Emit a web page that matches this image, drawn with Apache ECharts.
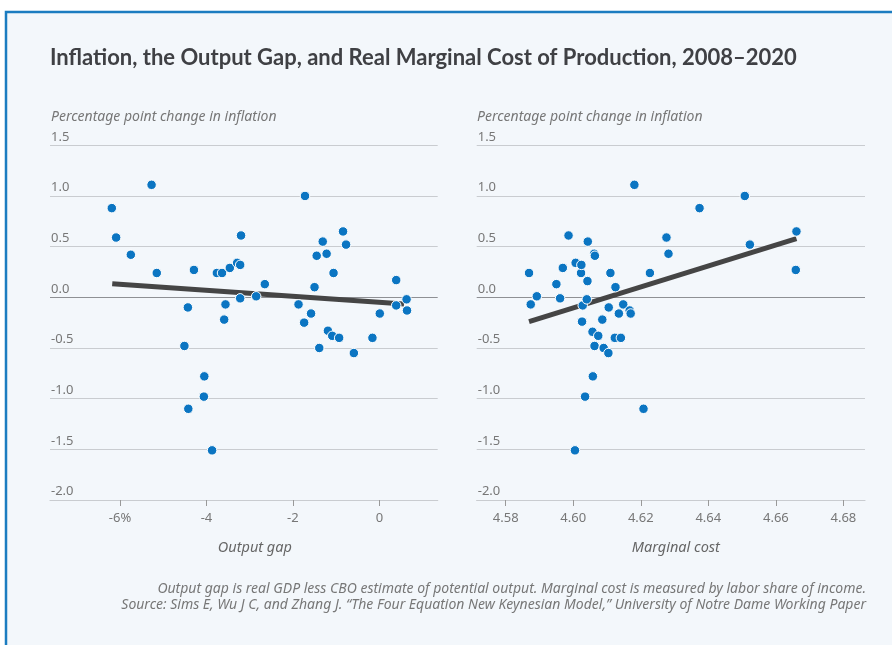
<!DOCTYPE html>
<html>
<head>
<meta charset="utf-8">
<script src="https://cdn.jsdelivr.net/npm/echarts@6/dist/echarts.min.js"></script>
<style>
html,body{margin:0;padding:0;background:#ffffff;}
#chart{width:892px;height:645px;}
</style>
</head>
<body>
<div id="chart"></div>
<script>
// Left panel: output gap (%) vs percentage point change in inflation
const gapX = [-6.19,-6.09,-5.75,-5.27,-5.15,-4.51,-4.43,-4.42,-4.29,-4.05,-4.06,-3.87,-3.76,-3.64,-3.59,-3.56,-3.46,-3.29,-3.22,-3.22,-3.20,-2.85,-2.65,-1.87,-1.74,-1.72,-1.58,-1.50,-1.45,-1.39,-1.31,-1.22,-1.19,-1.09,-1.06,-0.93,-0.84,-0.77,-0.59,-0.16,0.01,0.39,0.39,0.63,0.64];
const gapY = [0.88,0.59,0.42,1.11,0.24,-0.48,-0.10,-1.10,0.27,-0.78,-0.98,-1.51,0.24,0.24,-0.22,-0.07,0.29,0.34,0.32,-0.01,0.61,0.01,0.13,-0.07,-0.25,1.00,-0.16,0.10,0.41,-0.50,0.55,0.43,-0.33,-0.38,0.24,-0.40,0.65,0.52,-0.55,-0.40,-0.16,0.17,-0.08,-0.02,-0.13];
const gapFitX = [-6.18, 0.57];
const gapFitY = [0.134, -0.066];

// Right panel: marginal cost vs percentage point change in inflation
const mcX = [4.5869,4.5874,4.5892,4.5950,4.5961,4.5969,4.5986,4.6005,4.6007,4.6023,4.6024,4.6026,4.6028,4.6035,4.6040,4.6042,4.6043,4.6057,4.6058,4.6062,4.6063,4.6064,4.6074,4.6086,4.6090,4.6104,4.6105,4.6110,4.6123,4.6125,4.6135,4.6141,4.6148,4.6167,4.6170,4.6181,4.6208,4.6227,4.6276,4.6282,4.6374,4.6508,4.6523,4.6659,4.6661];
const mcY = [0.24,-0.07,0.01,0.13,-0.01,0.29,0.61,-1.51,0.34,0.24,0.32,-0.24,-0.08,-0.98,-0.02,0.16,0.55,-0.34,-0.78,0.43,-0.48,0.41,-0.38,-0.22,-0.50,-0.55,-0.10,0.24,-0.40,0.10,-0.16,-0.40,-0.07,-0.13,-0.16,1.11,-1.10,0.24,0.59,0.43,0.88,1.00,0.52,0.27,0.65];
const mcFitX = [4.5869, 4.6661];
const mcFitY = [-0.24, 0.58];

const gapTicks = [-6, -4, -2, 0];
const mcTicks = [4.58, 4.60, 4.62, 4.64, 4.66, 4.68];
const yTickLabels = ['-2.0','-1.5','-1.0','-0.5','0.0','0.5','1.0','1.5'];

const titleText = 'Inflation, the Output Gap, and Real Marginal Cost of Production, 2008\u20132020';
const yName = 'Percentage point change in inflation';
const note1 = 'Output gap is real GDP less CBO estimate of potential output. Marginal cost is measured by labor share of income.';
const note2 = 'Source: Sims E, Wu J C, and Zhang J. \u201cThe Four Equation New Keynesian Model,\u201d University of Notre Dame Working Paper';

const zip = (xs, ys) => xs.map((x, i) => [x, ys[i]]);

const FONT = '"Noto Sans", sans-serif';
const labelColor = '#777';
const gridColors = ['#c9ccd0','#c9ccd0','#c9ccd0','#c9ccd0','#8e9094','#c9ccd0','#c9ccd0','#c9ccd0'];

function yAxisCfg(gridIndex) {
  return {
    gridIndex: gridIndex,
    type: 'value',
    min: -2, max: 1.5, interval: 0.5,
    axisLine: { show: false },
    axisTick: { show: false },
    axisLabel: {
      inside: true, align: 'left', verticalAlign: 'bottom', margin: 1,
      padding: [0, 0, 2, 0],
      fontFamily: FONT, fontSize: 13, color: labelColor,
      showMinLabel: true, showMaxLabel: true,
      formatter: v => yTickLabels[Math.round((v + 2) / 0.5)]
    },
    splitLine: { show: true, lineStyle: { color: gridColors, width: 1.2 } }
  };
}

function xAxisCfg(gridIndex, min, max, ticks, fmt, name, padLeft) {
  return {
    gridIndex: gridIndex,
    type: 'value',
    min: min, max: max,
    name: name,
    nameLocation: 'middle',
    nameGap: 40,
    nameTextStyle: { fontFamily: FONT, fontStyle: 'italic', fontSize: 14.5, color: '#666', padding: [0, 0, 0, padLeft] },
    axisLine: { show: true, onZero: false, lineStyle: { color: '#c9ccd0', width: 1.2 } },
    axisTick: { show: true, length: 6, customValues: ticks, lineStyle: { color: '#999' } },
    axisLabel: { customValues: ticks, margin: 12, fontFamily: FONT, fontSize: 13, color: labelColor, formatter: fmt },
    splitLine: { show: false }
  };
}

const chart = echarts.init(document.getElementById('chart'), null, { renderer: 'canvas' });
chart.setOption({
  backgroundColor: 'transparent',
  animation: false,
  graphic: [
    { type: 'rect', z: -10, silent: true,
      shape: { x: 6, y: 12, width: 900, height: 700 },
      style: { fill: '#f3f7fb', stroke: '#1b7cc0', lineWidth: 2.5 } },
    { type: 'text', x: 50, y: 58, style: { text: titleText, fontFamily: 'Lato, sans-serif', fontWeight: 'bold', fontSize: 22, fill: '#3f4044', textVerticalAlign: 'middle' } },
    { type: 'text', x: 51, y: 117, style: { text: yName, textVerticalAlign: 'middle', fontFamily: FONT, fontStyle: 'italic', fontSize: 14, fill: '#777' } },
    { type: 'text', x: 477, y: 117, style: { text: yName, textVerticalAlign: 'middle', fontFamily: FONT, fontStyle: 'italic', fontSize: 14, fill: '#777' } },
    { type: 'text', x: 866, y: 589, style: { text: note1, textAlign: 'right', textVerticalAlign: 'middle', fontFamily: FONT, fontStyle: 'italic', fontSize: 14, fill: '#777' } },
    { type: 'text', x: 866, y: 605, style: { text: note2, textAlign: 'right', textVerticalAlign: 'middle', fontFamily: FONT, fontStyle: 'italic', fontSize: 14, fill: '#777' } }
  ],
  grid: [
    { left: 50, top: 145.3, width: 387.7, height: 354.7 },
    { left: 476.7, top: 145.3, width: 388.3, height: 354.7 }
  ],
  xAxis: [
    xAxisCfg(0, -7.62, 1.35, gapTicks, v => (Math.abs(v + 6) < 1e-6 ? '-6%' : String(Math.round(v))), 'Output gap', 22),
    xAxisCfg(1, 4.5714, 4.6864, mcTicks, v => v.toFixed(2), 'Marginal cost', 10)
  ],
  yAxis: [yAxisCfg(0), yAxisCfg(1)],
  series: [
    { type: 'line', xAxisIndex: 0, yAxisIndex: 0, data: zip(gapFitX, gapFitY), symbol: 'none', z: 2,
      lineStyle: { color: '#454545', width: 5 } },
    { type: 'scatter', xAxisIndex: 0, yAxisIndex: 0, data: zip(gapX, gapY), symbolSize: 9.5, z: 3,
      itemStyle: { color: '#0b75c2', borderColor: '#ffffff', borderWidth: 1, opacity: 1 } },
    { type: 'line', xAxisIndex: 1, yAxisIndex: 1, data: zip(mcFitX, mcFitY), symbol: 'none', z: 2,
      lineStyle: { color: '#454545', width: 5 } },
    { type: 'scatter', xAxisIndex: 1, yAxisIndex: 1, data: zip(mcX, mcY), symbolSize: 9.5, z: 3,
      itemStyle: { color: '#0b75c2', borderColor: '#ffffff', borderWidth: 1, opacity: 1 } }
  ]
});
</script>
</body>
</html>
